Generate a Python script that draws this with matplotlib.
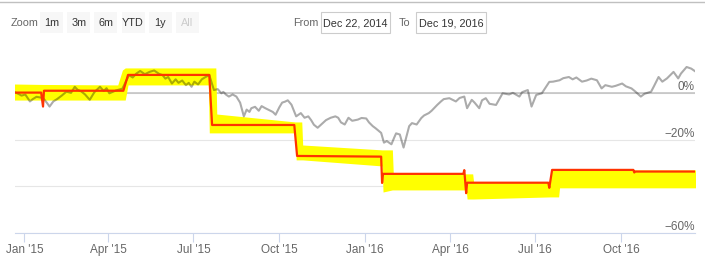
import matplotlib

matplotlib.use("Agg")
import matplotlib.dates as mdates
import matplotlib.pyplot as plt
import pandas as pd
from matplotlib.patches import Rectangle

plt.rcParams["font.family"] = ["Liberation Sans", "DejaVu Sans"]

# benchmark (gray) line, % change
bench_dates = [
    "2014-12-22", "2014-12-26", "2014-12-29", "2015-01-02", "2015-01-07", "2015-01-10",
    "2015-01-14", "2015-01-21", "2015-01-25", "2015-01-28", "2015-02-01", "2015-02-05",
    "2015-02-10", "2015-02-15", "2015-02-20", "2015-02-24", "2015-02-27", "2015-03-03",
    "2015-03-07", "2015-03-12", "2015-03-17", "2015-03-23", "2015-03-27", "2015-03-30",
    "2015-04-02", "2015-04-09", "2015-04-16", "2015-04-23", "2015-04-27", "2015-05-01",
    "2015-05-05", "2015-05-10", "2015-05-15", "2015-05-20", "2015-05-25", "2015-05-29",
    "2015-06-01", "2015-06-04", "2015-06-08", "2015-06-12", "2015-06-15", "2015-06-19",
    "2015-06-23", "2015-06-26", "2015-06-29", "2015-07-02", "2015-07-06", "2015-07-10",
    "2015-07-14", "2015-07-18", "2015-07-23", "2015-07-27", "2015-07-31", "2015-08-02",
    "2015-08-05", "2015-08-08", "2015-08-12", "2015-08-16", "2015-08-20", "2015-08-24",
    "2015-08-27", "2015-08-30", "2015-09-01", "2015-09-05", "2015-09-09", "2015-09-12",
    "2015-09-16", "2015-09-20", "2015-09-24", "2015-09-27", "2015-10-01", "2015-10-04",
    "2015-10-07", "2015-10-10", "2015-10-14", "2015-10-19", "2015-10-24", "2015-10-28",
    "2015-11-01", "2015-11-04", "2015-11-07", "2015-11-11", "2015-11-16", "2015-11-20",
    "2015-11-25", "2015-11-30", "2015-12-03", "2015-12-06", "2015-12-10", "2015-12-14",
    "2015-12-18", "2015-12-24", "2015-12-28", "2016-01-02", "2016-01-05", "2016-01-09",
    "2016-01-12", "2016-01-18", "2016-01-21", "2016-01-24", "2016-01-29", "2016-02-01",
    "2016-02-03", "2016-02-07", "2016-02-11", "2016-02-17", "2016-02-20", "2016-02-25",
    "2016-03-01", "2016-03-04", "2016-03-09", "2016-03-12", "2016-03-18", "2016-03-22",
    "2016-03-25", "2016-03-31", "2016-04-07", "2016-04-11", "2016-04-16", "2016-04-19",
    "2016-04-24", "2016-04-27", "2016-05-02", "2016-05-05", "2016-05-09", "2016-05-13",
    "2016-05-20", "2016-05-27", "2016-06-03", "2016-06-07", "2016-06-14", "2016-06-17",
    "2016-06-23", "2016-06-27", "2016-07-02", "2016-07-08", "2016-07-16", "2016-07-20",
    "2016-07-27", "2016-07-31", "2016-08-06", "2016-08-10", "2016-08-14", "2016-08-20",
    "2016-08-25", "2016-08-30", "2016-09-05", "2016-09-10", "2016-09-14", "2016-09-21",
    "2016-09-25", "2016-10-02", "2016-10-06", "2016-10-12", "2016-10-16", "2016-10-22",
    "2016-10-26", "2016-11-02", "2016-11-05", "2016-11-10", "2016-11-14", "2016-11-19",
    "2016-11-26", "2016-12-01", "2016-12-04", "2016-12-10", "2016-12-15", "2016-12-19",
]
bench_values = [
    0.4, -0.3, -1.0, -0.5, -3.5, -2.5,
    -1.5, -2.0, -4.0, -5.7, -3.5, -2.5,
    -1.0, 0.7, 0.2, 2.8, 1.5, 0.8,
    -0.5, -2.8, 0.5, 2.8, 1.0, 2.2,
    0.0, 1.2, 2.0, 7.8, 6.8, 8.5,
    9.6, 8.2, 9.2, 9.8, 8.4, 7.8,
    6.3, 7.0, 4.2, 6.0, 4.5, 5.5,
    3.5, 4.5, 2.8, 5.0, 3.8, 6.0,
    7.0, 7.8, 1.4, 1.8, 0.0, 0.6,
    -0.6, -1.4, -0.5, -1.4, -4.0, -9.9,
    -7.0, -8.0, -6.4, -5.8, -7.5, -5.5,
    -6.4, -7.2, -8.0, -9.2, -6.0, -4.0,
    -3.6, -3.0, -4.9, -9.9, -8.5, -10.5,
    -9.9, -11.5, -13.5, -14.8, -13.0, -11.5,
    -10.5, -9.9, -10.5, -12.5, -13.4, -10.5,
    -11.8, -11.3, -10.6, -10.8, -12.5, -14.1,
    -15.0, -17.0, -21.2, -20.5, -21.9, -19.0,
    -17.2, -17.7, -23.3, -14.1, -12.8, -13.4,
    -10.6, -9.5, -8.5, -7.5, -5.0, -3.5,
    -2.5, -2.1, -3.5, -2.0, -1.4, -6.4,
    -2.8, -4.0, -6.4, -3.0, -2.1, -4.5,
    -5.0, 0.0, -0.5, 0.2, -1.4, 0.5,
    1.4, -5.7, -0.7, 0.0, 4.9, 5.0,
    5.6, 6.5, 7.0, 6.0, 6.8, 5.0,
    5.5, 6.3, 5.6, 2.1, 3.5, 2.8,
    3.2, 4.2, 3.0, 2.1, 0.8, -1.4,
    -0.2, 0.7, 3.0, 7.0, 5.0, 6.4,
    9.2, 6.4, 8.5, 11.3, 10.6, 9.5,
]

# portfolio (red) line, % change
port_dates = [
    "2014-12-22", "2015-01-19", "2015-01-21", "2015-01-22", "2015-04-17", "2015-04-22",
    "2015-07-18", "2015-07-21", "2015-10-17", "2015-10-20", "2016-01-18", "2016-01-19",
    "2016-01-20", "2016-04-15", "2016-04-16", "2016-04-18", "2016-04-19", "2016-07-15",
    "2016-07-16", "2016-07-19", "2016-10-14", "2016-10-15", "2016-10-16", "2016-12-19",
]
port_values = [
    0.3, 0.3, -5.7, 1.1, 1.1, 7.9,
    7.9, -13.6, -13.6, -26.9, -27.2, -38.5,
    -34.6, -34.6, -33.0, -42.9, -38.4, -38.4,
    -40.6, -32.9, -32.9, -34.0, -33.6, -33.6,
]

# hand-drawn yellow highlight band (top / bottom edges, %)
hl_dates = [
    "2014-12-20", "2015-01-21", "2015-04-11", "2015-04-16", "2015-04-19", "2015-04-22",
    "2015-07-17", "2015-07-18", "2015-07-25", "2015-07-26", "2015-10-18", "2015-10-19",
    "2015-10-25", "2015-10-26", "2016-01-19", "2016-01-20", "2016-01-30", "2016-01-31",
    "2016-04-18", "2016-04-19", "2016-04-25", "2016-04-26", "2016-07-17", "2016-07-18",
    "2016-07-26", "2016-07-27", "2016-12-21",
]
hl_top = [
    4.0, 3.8, 3.6, 10.0, 10.9, 10.9,
    10.9, 10.9, 10.9, -8.9, -12.3, -12.3,
    -12.3, -22.2, -24.3, -24.3, -24.3, -34.6,
    -34.6, -34.6, -34.6, -38.1, -38.1, -32.9,
    -32.9, -32.9, -32.9,
]
hl_bottom = [
    -2.9, -2.9, -2.9, -2.9, -2.9, 3.6,
    3.6, -17.0, -17.0, -17.0, -17.0, -28.6,
    -28.6, -28.6, -31.2, -42.4, -41.5, -41.5,
    -41.5, -45.4, -45.4, -45.4, -44.5, -44.5,
    -44.5, -40.6, -40.6,
]

y_ticks = [-60, -40, -20, 0]
zoom_buttons = ["1m", "3m", "6m", "YTD", "1y", "All"]
date_from = "Dec 22, 2014"
date_to = "Dec 19, 2016"

W, H = 705, 264
fig = plt.figure(figsize=(W / 100, H / 100), dpi=100)


def fx(px):
    return px / W


def fy(py):
    return 1 - py / H


# range selector / input bar
fs_bar = 7.8
fig.add_artist(plt.Line2D([0, 1], [fy(1.5), fy(1.5)], color="#c0c0c0", lw=1))
fig.text(fx(11), fy(23), "Zoom", fontsize=fs_bar, color="#666666", va="center")
for i, label in enumerate(zoom_buttons):
    x0 = 40 + i * 27.2
    fig.add_artist(Rectangle((fx(x0), fy(33)), fx(23), 21 / H, color="#f7f7f7", lw=0))
    fig.text(fx(x0 + 11.5), fy(23), label, fontsize=fs_bar, ha="center", va="center",
             color="#cccccc" if label == "All" else "#333333")
fig.text(fx(293), fy(23), "From", fontsize=fs_bar, color="#666666", va="center")
fig.text(fx(399), fy(23), "To", fontsize=fs_bar, color="#666666", va="center")
for x0, x1, txt in [(321, 390, date_from), (416, 486, date_to)]:
    fig.add_artist(Rectangle((fx(x0), fy(33)), fx(x1 - x0), 21 / H, facecolor="white",
                             edgecolor="#cccccc", lw=0.8))
    fig.text(fx((x0 + x1) / 2), fy(23), txt, fontsize=fs_bar, ha="center", va="center",
             color="#333333")

ax = fig.add_axes([fx(15), fy(233), fx(680), (233 - 50) / H])

hd = pd.to_datetime(hl_dates)
ax.fill_between(hd, hl_bottom, hl_top, color="#ffff00", lw=0, zorder=2)
ax.axhline(0, color="#c0c0c0", lw=1.1, zorder=1)
ax.plot(pd.to_datetime(bench_dates), bench_values, color="black", alpha=0.33, lw=1.5,
        zorder=3)
ax.plot(pd.to_datetime(port_dates), port_values, color="#ff3300", lw=1.6, zorder=4)

ax.set_xlim(pd.Timestamp("2014-12-22"), pd.Timestamp("2016-12-19"))
ax.set_ylim(-60, 18.6)

ax.xaxis.set_major_locator(mdates.MonthLocator(bymonth=[1, 4, 7, 10]))
ax.xaxis.set_major_formatter(mdates.DateFormatter("%b '%y"))
ax.tick_params(axis="x", length=6.5, width=0.8, color="#ccd6eb", labelcolor="#666666",
               labelsize=8.5, pad=1.5)

ax.set_yticks(y_ticks)
ax.set_yticklabels([f"{v}%".replace("-", "\u2212") for v in y_ticks])
ax.yaxis.set_ticks_position("right")
ax.tick_params(axis="y", length=0, pad=0, labelsize=8.5, labelcolor="#666666",
               labelright=True, labelleft=False)
for lbl in ax.get_yticklabels():
    lbl.set_ha("right")
    lbl.set_va("bottom")
ax.yaxis.grid(True, color="#e6e6e6", lw=0.8, zorder=0)
ax.set_axisbelow(True)

for side in ["top", "left", "right"]:
    ax.spines[side].set_visible(False)
ax.spines["bottom"].set_color("#ccd6eb")
ax.spines["bottom"].set_linewidth(0.8)
ax.patch.set_alpha(0)

fig.savefig("out.png", dpi=100)
